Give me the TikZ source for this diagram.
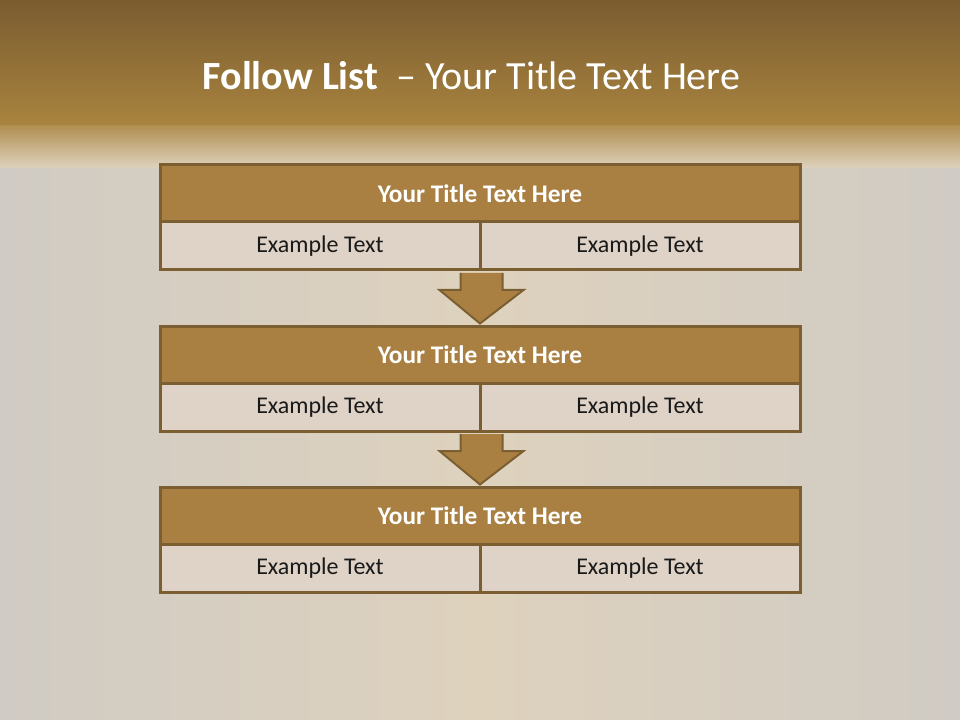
\documentclass[tikz,border=0pt]{standalone}
\usepackage{fontspec}
\setmainfont{Carlito}
\usepackage{tikz}
\usetikzlibrary{calc}
\definecolor{bandtop}{HTML}{7A5C30}
\definecolor{bandlow}{HTML}{A9843F}
\definecolor{paper}{HTML}{DED2BD}
\definecolor{paperedge}{HTML}{D0CBC4}
\definecolor{headfill}{HTML}{A98041}
\definecolor{rimbrown}{HTML}{7B5E31}
\definecolor{cellfill}{HTML}{DFD3C7}
\tikzset{
  headbox/.style={
    draw=rimbrown, line width=2.25pt, fill=headfill,
    minimum width=480pt, minimum height=42.75pt,
    font=\bfseries\fontsize{19}{22}\selectfont, text=white
  },
  cellbox/.style={
    draw=rimbrown, line width=2.25pt, fill=cellfill,
    minimum width=240pt, minimum height=36pt,
    font=\fontsize{18}{21}\selectfont, text=black!90
  },
  flowarrow/.style={
    draw=rimbrown, line width=1.5pt, fill=headfill, line join=miter
  },
}

\begin{document}
\begin{tikzpicture}[x=0.75pt, y=-0.75pt]
  \useasboundingbox (0,0) rectangle (960,720);

  % --- Background ---
  \shade[left color=paperedge, right color=paperedge, middle color=paper] (0,0) rectangle (960,720);
  \shade[top color=bandtop, bottom color=bandlow] (0,0) rectangle (960,126);
  \shade[top color=bandlow!85!paper, bottom color=paper] (0,126) rectangle (960,168);

  % --- Slide title ---
  \node[text=white, font=\fontsize{30}{34}\selectfont] (title) at (471.5,76)
    {\textbf{Follow List}\ \ -- Your Title Text Here};

  % --- Block 1 ---
  \node[headbox] (head1) at (480,193.5) {Your Title Text Here};
  \node[cellbox] (left1) at (320,246) {Example Text};
  \node[cellbox] (right1) at (640,246) {Example Text};

  % --- Block 2 ---
  \node[headbox] (head2) at (480,354.5) {Your Title Text Here};
  \node[cellbox] (left2) at (320,407) {Example Text};
  \node[cellbox] (right2) at (640,407) {Example Text};

  % --- Block 3 ---
  \node[headbox] (head3) at (480,515.5) {Your Title Text Here};
  \node[cellbox] (left3) at (320,568) {Example Text};
  \node[cellbox] (right3) at (640,568) {Example Text};

  % --- Arrows ---
  \draw[flowarrow] ($(left1.south east)+(-21,1.5)$) -- ++(0,17) -- ++(-21,0)
    -- ($(head2.north)+(0,-1)$) -- ($(left1.south east)+(42,18.5)$) -- ++(-21,0) -- ++(0,-17);
  \draw[flowarrow] ($(left2.south east)+(-21,1.5)$) -- ++(0,17) -- ++(-21,0)
    -- ($(head3.north)+(0,-1)$) -- ($(left2.south east)+(42,18.5)$) -- ++(-21,0) -- ++(0,-17);

\end{tikzpicture}
\end{document}
